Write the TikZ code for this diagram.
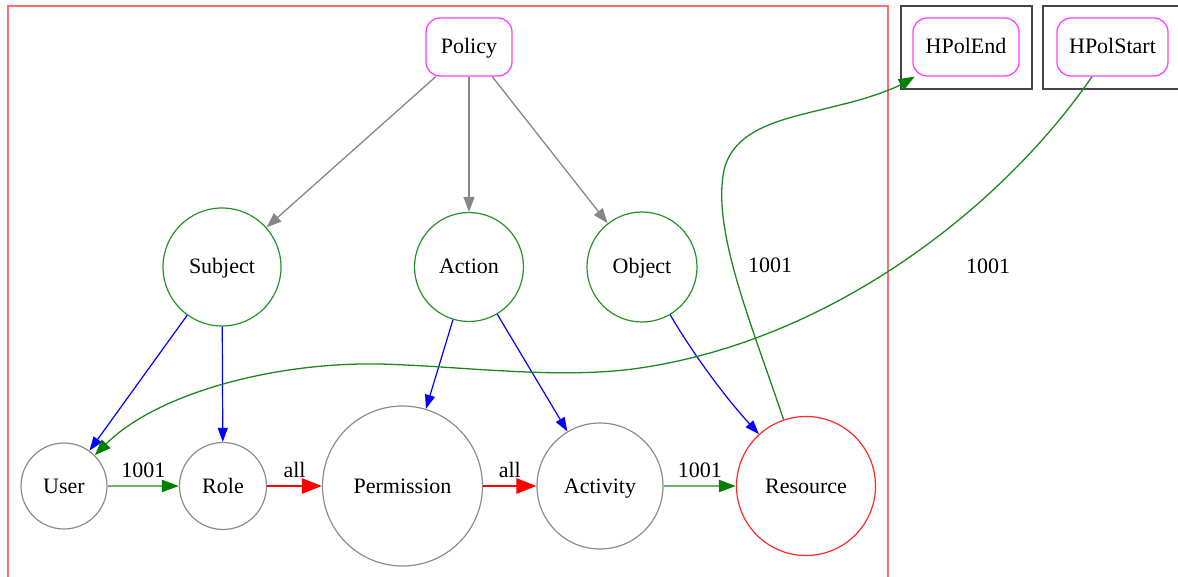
\documentclass[tikz,border=0pt]{standalone}
\usepackage{fontspec}
\setmainfont{Liberation Serif}
\usetikzlibrary{arrows.meta}

\definecolor{frameRed}{RGB}{255,110,110}
\definecolor{boxGray}{RGB}{70,70,70}
\definecolor{polMag}{RGB}{255,64,255}
\definecolor{nodeGreen}{RGB}{40,145,40}
\definecolor{nodeGray}{RGB}{140,140,140}
\definecolor{resRed}{RGB}{255,40,40}
\definecolor{edgeGray}{RGB}{135,135,135}
\definecolor{darkGreen}{RGB}{0,128,0}
\definecolor{curveGreen}{RGB}{30,135,30}
\definecolor{paleGreen}{RGB}{105,180,105}

\begin{document}
\begin{tikzpicture}[x=1pt, y=-1pt,
  every node/.style={font=\fontsize{22}{26}\selectfont, inner sep=0pt,
    text height=17pt, text depth=3pt},
  rbox/.style={draw=polMag, line width=1.3pt, rounded corners=14pt,
    minimum height=58pt},
  circ/.style={circle, line width=1.2pt},
  attr/.style={circ, draw=nodeGreen},
  entity/.style={circ, draw=nodeGray},
  target/.style={circ, draw=resRed},
  lbl/.style={inner sep=0pt},
  grayedge/.style={draw=edgeGray, line width=1.3pt,
    -{Triangle[length=15pt, width=11pt, color=edgeGray]}},
  blueedge/.style={draw=blue, line width=1.2pt,
    -{Triangle[length=14pt, width=10pt, color=blue]}},
  rededge/.style={draw=red, line width=2.8pt,
    -{Triangle[length=20pt, width=15pt, color=red]}},
  linkedge/.style={draw=paleGreen, line width=2.2pt,
    -{Triangle[length=17pt, width=12pt, color=darkGreen]}},
  hpedge/.style={draw=curveGreen, line width=1.3pt,
    -{Triangle[length=16pt, width=12pt, color=darkGreen]}},
  frame/.style={draw=frameRed, line width=2pt},
  holder/.style={draw=boxGray, line width=1.5pt}
]
\useasboundingbox (0,0) rectangle (1178,577);

% enclosing frames
\draw[frame] (8,6) rectangle (888,600);
\draw[holder] (901,6) rectangle (1032,89);
\draw[holder] (1043,6) rectangle (1181,89);

% policy nodes
\node[rbox, minimum width=86pt]  (pol) at (469,47)    {Policy};
\node[rbox, minimum width=106pt] (hpe) at (966,47)    {HPolEnd};
\node[rbox, minimum width=111pt] (hps) at (1112.5,47) {HPolStart};

% attribute nodes
\node[attr, minimum size=118pt] (sub) at (222,267) {Subject};
\node[attr, minimum size=109pt] (act) at (469,267) {Action};
\node[attr, minimum size=110pt] (obj) at (642,267) {Object};

% entity nodes
\node[entity, minimum size=86pt]  (user) at (64,486)    {User};
\node[entity, minimum size=87pt]  (role) at (223,486)   {Role};
\node[entity, minimum size=160pt] (perm) at (402.5,486) {Permission};
\node[entity, minimum size=126pt] (acty) at (600,486)   {Activity};
\node[target, minimum size=139pt] (res)  at (806,486)   {Resource};

% policy to attributes
\draw[grayedge] (pol) -- (sub);
\draw[grayedge] (pol) -- (act);
\draw[grayedge] (pol) -- (obj);

% attributes to entities
\draw[blueedge] (sub) -- (user);
\draw[blueedge] (sub) -- (role);
\draw[blueedge] (act) -- (perm);
\draw[blueedge] (act) -- (acty);
\draw[blueedge] (obj) .. controls (695,357) and (726,398) .. (res);

% entity chain
\draw[linkedge] (user) -- node[lbl, yshift=16pt] {1001} (role);
\draw[rededge]  (role) -- node[lbl, yshift=16pt] {all} (perm);
\draw[rededge]  (perm) -- node[lbl, yshift=16pt] {all} (acty);
\draw[linkedge] (acty) -- node[lbl, yshift=16pt] {1001} (res);

% links to the policy holders
\draw[hpedge] (res) .. controls (750,320) and (712,230) .. (724,170)
  .. controls (735,125) and (790,118) .. (840,105)
  .. controls (870,98) and (895,88) .. (hpe);
\node[lbl] (lend) at (770,266) {1001};

\draw[hpedge] (hps) .. controls (1000,210) and (830,340) .. (640,368)
  .. controls (560,380) and (460,366) .. (380,364)
  .. controls (270,362) and (155,395) .. (user);
\node[lbl] (lstart) at (988,267) {1001};
\end{tikzpicture}
\end{document}
